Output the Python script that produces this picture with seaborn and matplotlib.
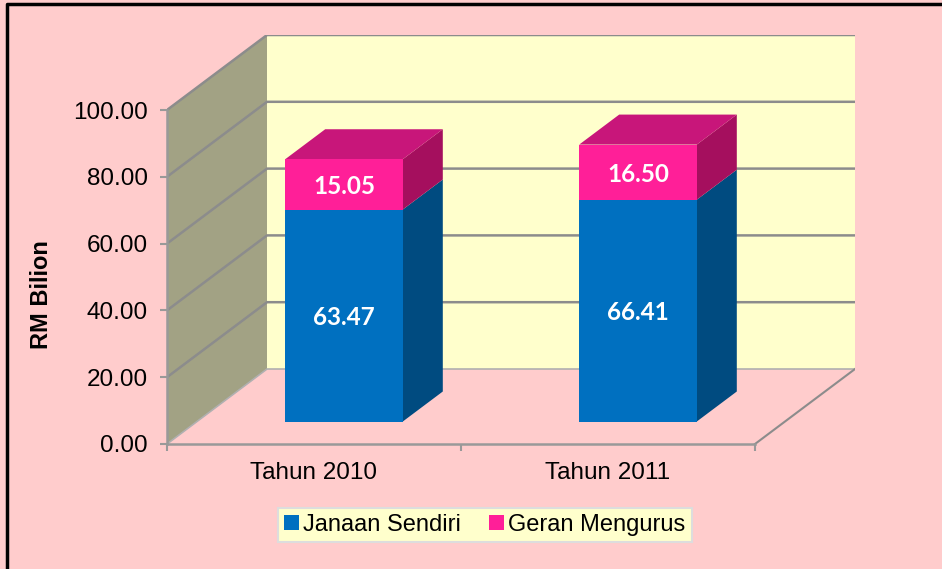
import pandas as pd
import matplotlib.pyplot as plt
import seaborn as sns
from matplotlib.patches import Polygon, Patch
from matplotlib.lines import Line2D
from matplotlib.transforms import Affine2D

# data
categories = ['Tahun 2010', 'Tahun 2011']
janaan = [63.47, 66.41]
geran = [15.05, 16.50]
series_names = ['Janaan Sendiri', 'Geran Mengurus']
yticks = [0, 20, 40, 60, 80, 100]

df = pd.DataFrame({'tahun': categories, 'janaan': janaan, 'geran': geran})
df['jumlah'] = df['janaan'] + df['geran']

# colours
BG = '#FFCCCC'
WALL_BACK = '#FFFFCC'
WALL_SIDE = '#A2A284'
GRID = '#8C8C8C'
BLUE, BLUE_SIDE = '#0070C0', '#004B80'
PINK, PINK_TOP, PINK_SIDE = '#FF1F98', '#C8167A', '#A50F5E'

plt.rcParams['font.family'] = ['Liberation Sans', 'DejaVu Sans']

W, H = 942, 569
fig = plt.figure(figsize=(W / 100, H / 100), dpi=100, facecolor=BG)

# axes box in pixels (front frame + depth)
left_px, right_px, top_px, bot_px = 167, 855, 35, 444
front_w_px = 588          # width of front category axis
depth_px = (100, 75)      # oblique offset of the back wall
ax = fig.add_axes([left_px / W, (H - bot_px) / H,
                   (right_px - left_px) / W, (bot_px - top_px) / H])
ax.set_facecolor('none')

px_per_cat = front_w_px / len(categories)
px_per_val = (bot_px - top_px - depth_px[1]) / 100
DX = depth_px[0] / px_per_cat
DY = depth_px[1] / px_per_val


def P(x, v, d):
    # project (category x, value v, depth d in 0..1) to data coords
    return (x + d * DX, v + d * DY)


# --- bars (front faces) with seaborn ---
bw = 0.4
d0, d1 = 0.3, 0.7
sns.barplot(data=df, x='tahun', y='jumlah', color=PINK, saturation=1,
            width=bw, errorbar=None, edgecolor='none', ax=ax, zorder=4)
sns.barplot(data=df, x='tahun', y='janaan', color=BLUE, saturation=1,
            width=bw, errorbar=None, edgecolor='none', ax=ax, zorder=4)
shift = Affine2D().translate(d0 * DX, d0 * DY)
for p in list(ax.patches):
    p.set_transform(shift + ax.transData)

# --- walls ---
xl, xr = -0.5, len(categories) - 0.5
side = [P(xl, 0, 0), P(xl, 100, 0), P(xl, 100, 1), P(xl, 0, 1)]
ax.add_patch(Polygon(side, closed=True, facecolor=WALL_SIDE, edgecolor='none', zorder=0))
back = [P(xl, 0, 1), P(xr, 0, 1), P(xr, 100, 1), P(xl, 100, 1)]
ax.add_patch(Polygon(back, closed=True, facecolor=WALL_BACK, edgecolor='none', zorder=0))

for v in yticks:
    pts = [P(xl, v, 0), P(xl, v, 1), P(xr, v, 1)]
    c, lw = (GRID, 1.8) if v > 0 else ('#B0B0B0', 1.2)
    ax.plot([q[0] for q in pts], [q[1] for q in pts], color=c, lw=lw,
            zorder=1, solid_capstyle='butt')
# floor right edge
fr = [P(xr, 0, 0), P(xr, 0, 1)]
ax.plot([q[0] for q in fr], [q[1] for q in fr], color=GRID, lw=1.5, zorder=1)

# --- 3d faces of the bars ---
for i, (b, g) in enumerate(zip(janaan, geran)):
    lft, rgt = i - bw / 2, i + bw / 2
    tot = b + g
    ax.add_patch(Polygon([P(rgt, 0, d0), P(rgt, b, d0), P(rgt, b, d1), P(rgt, 0, d1)],
                         facecolor=BLUE_SIDE, edgecolor='none', zorder=3))
    ax.add_patch(Polygon([P(rgt, b, d0), P(rgt, tot, d0), P(rgt, tot, d1), P(rgt, b, d1)],
                         facecolor=PINK_SIDE, edgecolor='none', zorder=3))
    ax.add_patch(Polygon([P(lft, tot, d0), P(rgt, tot, d0), P(rgt, tot, d1), P(lft, tot, d1)],
                         facecolor=PINK_TOP, edgecolor='none', zorder=3))
    for val, mid in [(b, b / 2), (g, b + g / 2)]:
        tx, ty = P(i, mid, d0)
        ax.text(tx, ty, f'{val:.2f}', ha='center', va='center_baseline', color='white',
                fontsize=17.5, fontweight='bold', family=['Lato', 'DejaVu Sans'], zorder=10)

# --- axes ---
ax.set_xlim(xl, xl + (right_px - left_px) / px_per_cat)
ax.set_ylim(0, (bot_px - top_px) / px_per_val)
ax.set_xlabel('')
ax.set_ylabel('')
for s in ['top', 'right']:
    ax.spines[s].set_visible(False)
for s in ['left', 'bottom']:
    ax.spines[s].set_color('#999999')
    ax.spines[s].set_linewidth(1.8)
    ax.spines[s].set_zorder(2)
ax.spines['left'].set_bounds(0, 100)
ax.spines['bottom'].set_bounds(xl, xr)

ax.set_yticks(yticks)
ax.set_yticklabels([f'{v:.2f}' for v in yticks])
ax.set_xticks(range(len(categories)))
ax.set_xticklabels(categories)
ax.set_xticks([xl + k for k in range(len(categories) + 1)], minor=True)
ax.tick_params(axis='y', length=5, width=1.5, color='#999999', pad=9, labelsize=17.5)
ax.tick_params(axis='x', which='major', length=0, pad=13, labelsize=17.5)
ax.tick_params(axis='x', which='minor', length=5, width=1.5, color='#999999')
ax.grid(False)

fig.text(41 / W, 1 - 295 / H, 'RM Bilion', rotation=90, ha='center', va='center',
         fontsize=17, fontweight='bold')

# legend
handles = [Patch(facecolor=BLUE, edgecolor='none'), Patch(facecolor=PINK, edgecolor='none')]
leg = fig.legend(handles, series_names, loc='center', bbox_to_anchor=(485 / W, 1 - 525 / H),
                 ncol=2, fontsize=17, frameon=True, fancybox=False, handlelength=0.6,
                 handleheight=0.6, handletextpad=0.2, columnspacing=1.2, borderpad=0.25)
leg.get_frame().set_facecolor(WALL_BACK)
leg.get_frame().set_edgecolor('#DDDDDD')
leg.get_frame().set_linewidth(1.5)
leg.get_frame().set_alpha(1)

# chart border (top and left visible)
fig.add_artist(Line2D([7 / W, 7 / W, 1.0], [0.0, 1 - 4 / H, 1 - 4 / H],
                      transform=fig.transFigure, color='black', lw=2.5))

fig.savefig('out.png', dpi=100, facecolor=BG)
